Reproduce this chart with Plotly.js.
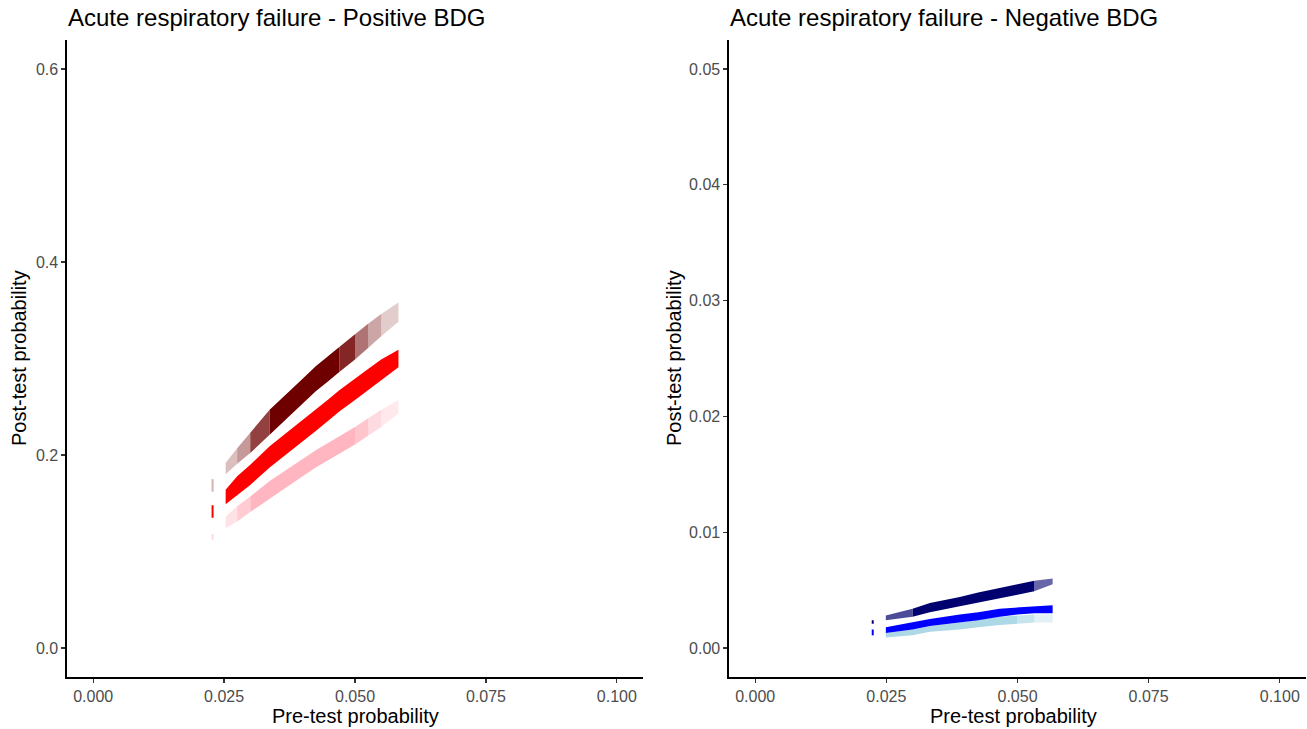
<!DOCTYPE html>
<html>
<head>
<meta charset="utf-8">
<script src="https://cdn.plot.ly/plotly-3.0.1.min.js"></script>
<style>html,body{margin:0;padding:0;background:#fff;}#chart{width:1307px;height:729px;}</style>
</head>
<body>
<div id="chart"></div>
<script>
// ---------- data ----------
// Positive BDG panel: pre-test probability positions and band limits (post-test)
const posX    = [0.0253, 0.0275, 0.030, 0.0337, 0.0375, 0.040, 0.0425, 0.045, 0.047, 0.050, 0.0525, 0.055, 0.0583];
const darkLo  = [0.180, 0.191, 0.202, 0.221, 0.240, 0.253, 0.266, 0.277, 0.286, 0.299, 0.311, 0.323, 0.338];
const darkHi  = [0.192, 0.207, 0.223, 0.247, 0.266, 0.279, 0.292, 0.303, 0.312, 0.325, 0.336, 0.346, 0.358];
const redLo   = [0.149, 0.158, 0.169, 0.187, 0.203, 0.214, 0.225, 0.236, 0.245, 0.257, 0.267, 0.277, 0.291];
const redHi   = [0.164, 0.178, 0.190, 0.209, 0.225, 0.236, 0.247, 0.258, 0.267, 0.279, 0.289, 0.299, 0.309];
const pinkLo  = [0.124, 0.131, 0.141, 0.155, 0.169, 0.178, 0.187, 0.195, 0.201, 0.211, 0.220, 0.229, 0.243];
const pinkHi  = [0.136, 0.147, 0.157, 0.173, 0.187, 0.196, 0.205, 0.213, 0.219, 0.229, 0.238, 0.247, 0.257];
// isolated ticks at the lowest pre-test value
const posTickX  = [0.0228, 0.0228, 0.0228];
const posTickLo = [0.162, 0.135, 0.112];
const posTickHi = [0.175, 0.148, 0.118];

// Negative BDG panel
const negX    = [0.0249, 0.030, 0.0333, 0.039, 0.0425, 0.0466, 0.050, 0.0532, 0.0567];
const navyLo  = [0.0024, 0.0027, 0.0031, 0.0036, 0.0039, 0.0043, 0.0046, 0.0049, 0.0055];
const navyHi  = [0.0028, 0.0034, 0.0039, 0.0044, 0.0048, 0.0052, 0.0055, 0.0058, 0.0060];
const blueLo  = [0.0013, 0.0016, 0.0019, 0.0022, 0.0024, 0.0027, 0.0029, 0.0030, 0.0030];
const blueHi  = [0.0018, 0.0022, 0.0025, 0.0029, 0.0031, 0.0034, 0.0035, 0.0036, 0.0037];
const lightLo = [0.0009, 0.0011, 0.0014, 0.0016, 0.0018, 0.0020, 0.0021, 0.0022, 0.0022];
const lightHi = [0.0013, 0.0016, 0.0019, 0.0022, 0.0024, 0.0027, 0.0028, 0.0029, 0.0029];
const negTickX  = [0.0224, 0.0224];
const negTickLo = [0.0021, 0.0011];
const negTickHi = [0.0024, 0.0016];

const xTickVals = [0, 0.025, 0.05, 0.075, 0.1];
const xTickText = ['0.000', '0.025', '0.050', '0.075', '0.100'];
const posYTickVals = [0, 0.2, 0.4, 0.6];
const posYTickText = ['0.0', '0.2', '0.4', '0.6'];
const negYTickVals = [0, 0.01, 0.02, 0.03, 0.04, 0.05];
const negYTickText = ['0.00', '0.01', '0.02', '0.03', '0.04', '0.05'];

const titles = ['Acute respiratory failure - Positive BDG', 'Acute respiratory failure - Negative BDG'];
const xTitle = 'Pre-test probability';
const yTitle = 'Post-test probability';

// ---------- styling: opacity of each band segment (faded sparse ends) ----------
const darkAlpha  = [0.25, 0.4, 0.75, 1, 1, 1, 1, 1, 0.85, 0.55, 0.35, 0.2];
const redAlpha   = [1, 1, 1, 1, 1, 1, 1, 1, 1, 1, 1, 1];
const pinkAlpha  = [0.4, 0.7, 1, 1, 1, 1, 1, 1, 1, 0.8, 0.5, 0.3];
const navyAlpha  = [0.7, 1, 1, 1, 1, 1, 1, 0.6];
const blueAlpha  = [1, 1, 1, 1, 1, 1, 1, 1];
const lightAlpha = [1, 1, 1, 1, 1, 1, 0.7, 0.35];

// ---------- helpers ----------
function rgba(rgb, a) { return 'rgba(' + rgb + ',' + a + ')'; }
// runs of segments with equal opacity become one closed polygon (lower edge forward, upper edge back)
function band(x, lo, hi, rgb, alpha, xa, ya) {
  const out = [];
  let s = 0;
  while (s < x.length - 1) {
    let e = s + 1;
    while (e < x.length - 1 && alpha[e] === alpha[s]) e++;
    const px = [], py = [];
    for (let i = s; i <= e; i++) { px.push(x[i]); py.push(lo[i]); }
    for (let i = e; i >= s; i--) { px.push(x[i]); py.push(hi[i]); }
    px.push(x[s]); py.push(lo[s]);
    out.push({
      x: px, y: py, type: 'scatter', mode: 'lines', fill: 'toself', xaxis: xa, yaxis: ya,
      line: {width: 0, color: rgba(rgb, alpha[s])},
      fillcolor: rgba(rgb, alpha[s]),
      showlegend: false, hoverinfo: 'skip'
    });
    s = e;
  }
  return out;
}
function ticks(x, lo, hi, colors, xa, ya, thick) {
  return x.map((v, i) => ({
    x: [v], y: [lo[i]], type: 'scatter', mode: 'markers', xaxis: xa, yaxis: ya,
    marker: {size: 1, opacity: 0}, showlegend: false, hoverinfo: 'skip',
    error_y: {type: 'data', symmetric: false, array: [hi[i] - lo[i]], arrayminus: [0],
      width: 0, thickness: thick, color: colors[i]}
  }));
}

const DARK = '110,0,0', RED = '255,0,0', PINK = '255,182,193';
const NAVY = '0,0,110', BLUE = '0,0,255', LBLUE = '173,216,230';

let traces = [];
traces = traces.concat(band(posX, pinkLo, pinkHi, PINK, pinkAlpha, 'x', 'y'));
traces = traces.concat(band(posX, redLo, redHi, RED, redAlpha, 'x', 'y'));
traces = traces.concat(band(posX, darkLo, darkHi, DARK, darkAlpha, 'x', 'y'));
traces = traces.concat(ticks(posTickX, posTickLo, posTickHi,
  [rgba(DARK, 0.3), rgba(RED, 1), rgba(PINK, 0.5)], 'x', 'y', 2));

traces = traces.concat(band(negX, lightLo, lightHi, LBLUE, lightAlpha, 'x2', 'y2'));
traces = traces.concat(band(negX, blueLo, blueHi, BLUE, blueAlpha, 'x2', 'y2'));
traces = traces.concat(band(negX, navyLo, navyHi, NAVY, navyAlpha, 'x2', 'y2'));
traces = traces.concat(ticks(negTickX, negTickLo, negTickHi,
  [rgba(NAVY, 1), rgba(BLUE, 1)], 'x2', 'y2', 2));

const W = 1307, H = 729;
const FONT = 'Liberation Sans, Arial, Helvetica, sans-serif';
function axisCommon() {
  return {showline: true, linecolor: '#000', linewidth: 1.6, ticks: 'outside', ticklen: 4,
    tickwidth: 1.2, tickcolor: '#333', showgrid: false, zeroline: false, fixedrange: true,
    tickfont: {family: FONT, size: 16, color: '#4D4D4D'}};
}
const yDom = [52 / H, 689 / H];
const layout = {
  width: W, height: H, margin: {l: 0, r: 0, t: 0, b: 0},
  paper_bgcolor: '#fff', plot_bgcolor: '#fff', showlegend: false,
  xaxis: Object.assign(axisCommon(), {domain: [67 / W, 643 / W], range: [-0.005, 0.105],
    tickvals: xTickVals, ticktext: xTickText, anchor: 'y'}),
  yaxis: Object.assign(axisCommon(), {domain: yDom, range: [-0.03, 0.63],
    tickvals: posYTickVals, ticktext: posYTickText, anchor: 'x'}),
  xaxis2: Object.assign(axisCommon(), {domain: [729 / W, 1306 / W], range: [-0.005, 0.105],
    tickvals: xTickVals, ticktext: xTickText, anchor: 'y2'}),
  yaxis2: Object.assign(axisCommon(), {domain: yDom, range: [-0.0025, 0.0525],
    tickvals: negYTickVals, ticktext: negYTickText, anchor: 'x2'}),
  annotations: [
    {text: titles[0], xref: 'paper', yref: 'paper', x: 66 / W, y: 1 - 17 / H, xanchor: 'left', yanchor: 'middle',
      showarrow: false, font: {family: FONT, size: 24, color: '#000'}},
    {text: titles[1], xref: 'paper', yref: 'paper', x: 728 / W, y: 1 - 17 / H, xanchor: 'left', yanchor: 'middle',
      showarrow: false, font: {family: FONT, size: 24, color: '#000'}},
    {text: xTitle, xref: 'paper', yref: 'paper', x: 355 / W, y: 1 - 716 / H, xanchor: 'center', yanchor: 'middle',
      showarrow: false, font: {family: FONT, size: 20, color: '#000'}},
    {text: xTitle, xref: 'paper', yref: 'paper', x: 1013 / W, y: 1 - 716 / H, xanchor: 'center', yanchor: 'middle',
      showarrow: false, font: {family: FONT, size: 20, color: '#000'}},
    {text: yTitle, xref: 'paper', yref: 'paper', x: 19 / W, y: 1 - 358 / H, xanchor: 'center', yanchor: 'middle',
      textangle: -90, showarrow: false, font: {family: FONT, size: 20, color: '#000'}},
    {text: yTitle, xref: 'paper', yref: 'paper', x: 674 / W, y: 1 - 358 / H, xanchor: 'center', yanchor: 'middle',
      textangle: -90, showarrow: false, font: {family: FONT, size: 20, color: '#000'}}
  ]
};
Plotly.newPlot('chart', traces, layout, {staticPlot: true, displayModeBar: false});
</script>
</body>
</html>
